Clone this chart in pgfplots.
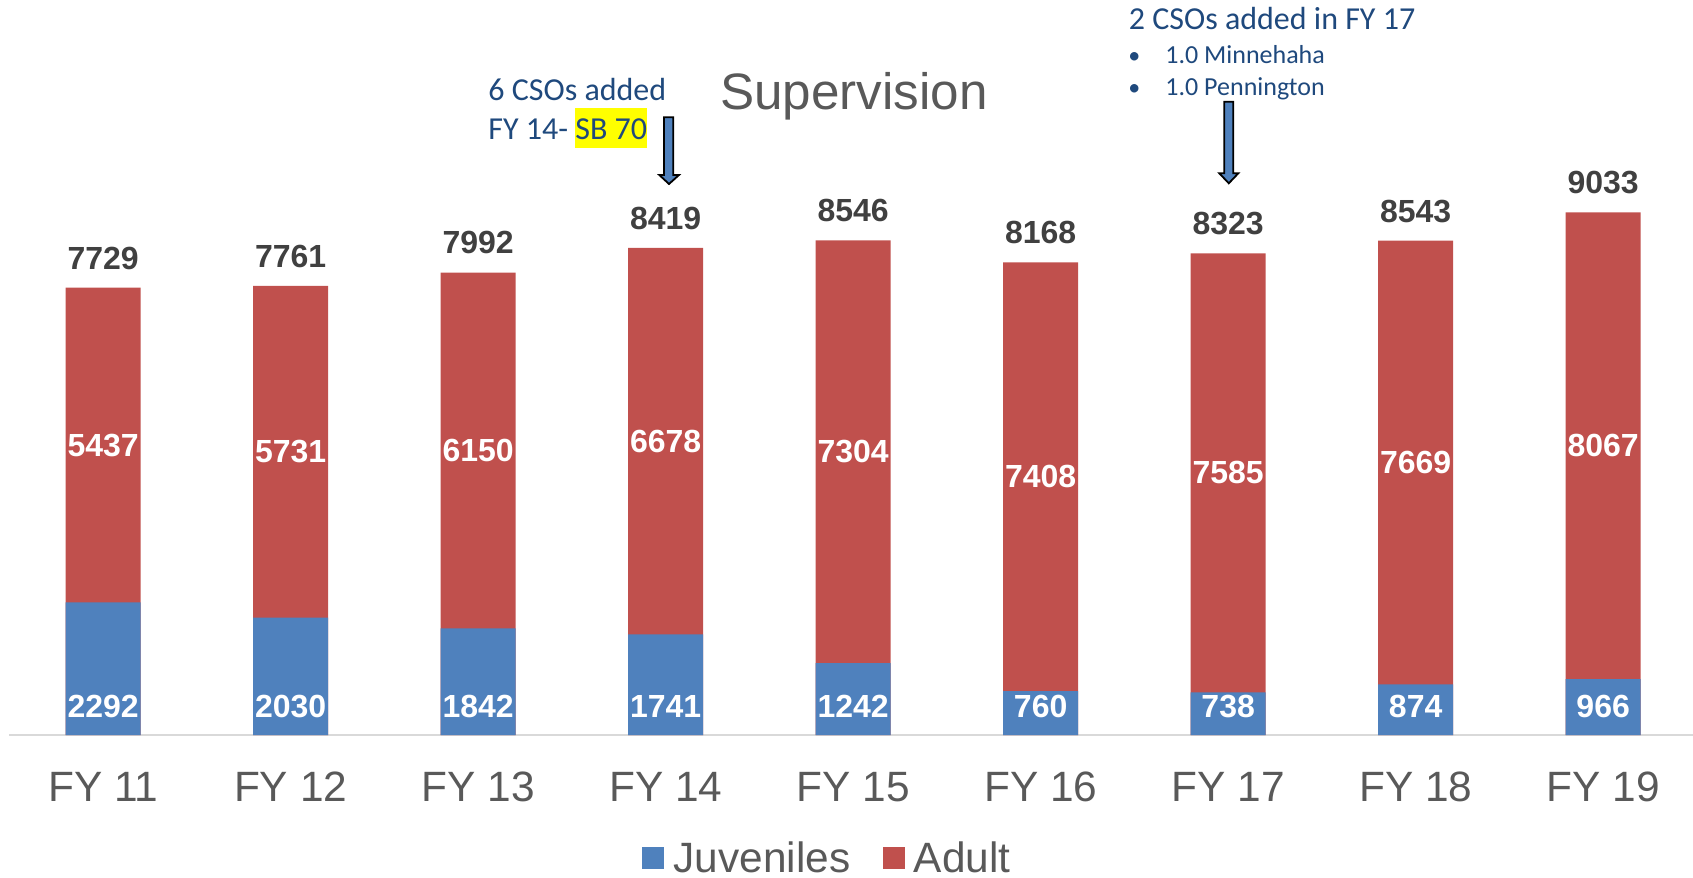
\documentclass[border=0pt]{standalone}
\usepackage{fontspec}
\setmainfont{Liberation Sans}
\newfontfamily\carlito{Carlito}
\usepackage{pgfplots}
\pgfplotsset{compat=1.18}
\definecolor{juvblue}{HTML}{4F81BD}
\definecolor{adultred}{HTML}{C0504D}
\definecolor{txtgray}{HTML}{595959}
\definecolor{lbldark}{HTML}{404040}
\definecolor{annblue}{HTML}{1F497D}
\definecolor{linegray}{HTML}{D9D9D9}
\definecolor{hiyellow}{HTML}{FFFF00}
\begin{document}
\begin{tikzpicture}
\path[use as bounding box] (0,0) rectangle (846.5pt,-439pt);
\begin{axis}[
  at={(4.5pt,-367.5pt)}, anchor=south west,
  scale only axis, width=842pt, height=367.5pt,
  xmin=-0.502, xmax=8.479, ymin=0, ymax=12701,
  clip=false,
  axis x line*=bottom, axis y line=none,
  x axis line style={-, draw=linegray, line width=1.25pt},
  xtick={0,...,8},
  xticklabels={FY 11,FY 12,FY 13,FY 14,FY 15,FY 16,FY 17,FY 18,FY 19},
  major tick length=0pt,
  xticklabel style={anchor=base, yshift=-33pt, font=\fontsize{21.2}{25}\selectfont, text=txtgray},
  ytick=\empty,
  legend style={at={(0.4866,-0.168)}, anchor=center, draw=none, fill=none,
    legend columns=2, font=\fontsize{21.2}{25}\selectfont, text=txtgray,
    /tikz/every odd column/.append style={column sep=2.7pt},
    /tikz/every even column/.append style={column sep=14pt}},
  legend image code/.code={\fill[#1] (0pt,-5.5pt) rectangle (11pt,5.5pt);},
]
\addlegendimage{fill=juvblue, draw=none}
\addlegendentry{Juveniles}
\addlegendimage{fill=adultred, draw=none}
\addlegendentry{Adult}
% totals (red = adult on top of juveniles)
\addplot[ybar, bar width=37.5pt, bar shift=0pt, fill=adultred, draw=none, forget plot]
  coordinates {(0,7729) (1,7761) (2,7992) (3,8419) (4,8546) (5,8168) (6,8323) (7,8543) (8,9033)};
% juveniles
\addplot[ybar, bar width=37.5pt, bar shift=0pt, fill=juvblue, draw=none, forget plot]
  coordinates {(0,2292) (1,2030) (2,1842) (3,1741) (4,1242) (5,760) (6,738) (7,874) (8,966)};
% total labels
\addplot[draw=none, forget plot, nodes near coords, point meta=explicit symbolic,
  every node near coord/.append style={anchor=base, yshift=9.3pt, font=\bfseries\fontsize{16}{19}\selectfont, text=lbldark}]
  coordinates {(0,7729) [7729] (1,7761) [7761] (2,7992) [7992] (3,8419) [8419] (4,8546) [8546] (5,8168) [8168] (6,8323) [8323] (7,8543) [8543] (8,9033) [9033]};
% adult labels
\addplot[draw=none, forget plot, nodes near coords, point meta=explicit symbolic,
  every node near coord/.append style={anchor=center, font=\bfseries\fontsize{16}{19}\selectfont, text=white}]
  coordinates {(0,5010.5) [5437] (1,4895.5) [5731] (2,4917) [6150] (3,5080) [6678] (4,4894) [7304] (5,4464) [7408] (6,4530.5) [7585] (7,4708.5) [7669] (8,4999.5) [8067]};
% juvenile labels
\addplot[draw=none, forget plot, nodes near coords, point meta=explicit symbolic,
  every node near coord/.append style={anchor=base, yshift=8.75pt, font=\bfseries\fontsize{16}{19}\selectfont, text=white}]
  coordinates {(0,0) [2292] (1,0) [2030] (2,0) [1842] (3,0) [1741] (4,0) [1242] (5,0) [760] (6,0) [738] (7,0) [874] (8,0) [966]};
\end{axis}
\begin{scope}[x=0.5pt, y=-0.5pt]
  \node[anchor=base, inner sep=0pt, text=txtgray, font=\fontsize{25.6}{30}\selectfont] at (853.8,109.3) {Supervision};
  % annotation 1
  \node[anchor=base west, inner sep=0pt, text=annblue, font=\carlito\fontsize{16}{19}\selectfont] at (488,100.7) {6 CSOs added};
  \node[anchor=base west, inner sep=0pt, text=annblue, font=\carlito\fontsize{16}{19}\selectfont] at (488,139) {FY 14- {\setlength{\fboxsep}{0pt}\colorbox{hiyellow}{\vrule height 15.7pt depth 4.35pt width 0pt SB 70}}};
  \filldraw[fill=juvblue, draw=black, line width=0.9pt, line join=miter]
    (664,117.3) -- (673.3,117.3) -- (673.3,175) -- (679,175) -- (669,184) -- (659.3,175) -- (664,175) -- cycle;
  % annotation 2
  \node[anchor=base west, inner sep=0pt, text=annblue, font=\carlito\fontsize{16}{19}\selectfont] at (1128.5,30) {2 CSOs added in FY 17};
  \node[anchor=base west, inner sep=0pt, text=annblue, font=\carlito\fontsize{12}{15}\selectfont] at (1128,63.3) {•};
  \node[anchor=base west, inner sep=0pt, text=annblue, font=\carlito\fontsize{13}{15}\selectfont] at (1165,63.3) {1.0 Minnehaha};
  \node[anchor=base west, inner sep=0pt, text=annblue, font=\carlito\fontsize{12}{15}\selectfont] at (1128,95.5) {•};
  \node[anchor=base west, inner sep=0pt, text=annblue, font=\carlito\fontsize{13}{15}\selectfont] at (1165,95.5) {1.0 Pennington};
  \filldraw[fill=juvblue, draw=black, line width=0.9pt, line join=miter]
    (1224.3,101.7) -- (1233.3,101.7) -- (1233.3,173.3) -- (1238.3,173.3) -- (1228.8,183.3) -- (1219.3,173.3) -- (1224.3,173.3) -- cycle;
\end{scope}
\end{tikzpicture}
\end{document}
